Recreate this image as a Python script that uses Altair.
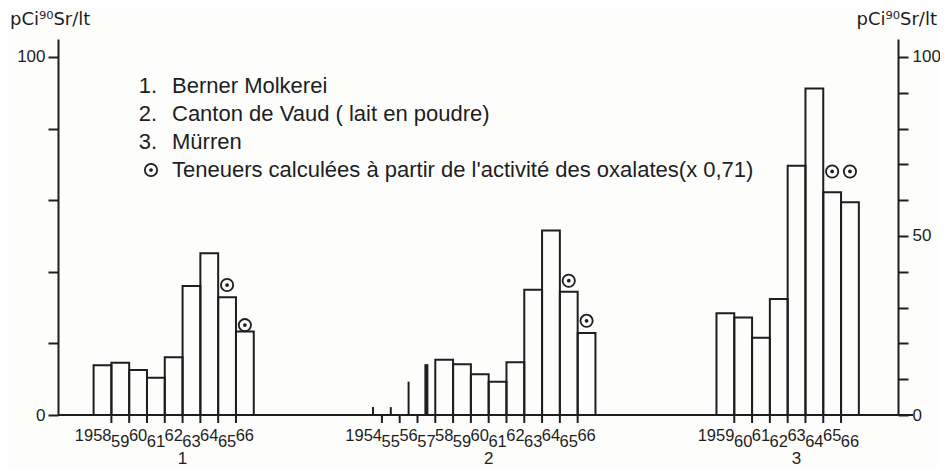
import altair as alt
import pandas as pd

# ---------------- data ----------------
GROUP_NAMES = ["1", "2", "3"]
YEARS_1 = [1958, 1959, 1960, 1961, 1962, 1963, 1964, 1965, 1966]
VALUES_1 = [13.9, 14.6, 12.6, 10.4, 16.1, 36.0, 45.2, 32.9, 23.3]
YEARS_2 = [1954, 1955, 1956, 1957, 1958, 1959, 1960, 1961, 1962, 1963, 1964, 1965, 1966]
VALUES_2 = [2.2, 2.2, 9.3, 14.2, 15.4, 14.2, 11.4, 9.3, 14.7, 35.0, 51.5, 34.4, 22.9]
YEARS_3 = [1959, 1960, 1961, 1962, 1963, 1964, 1965, 1966]
VALUES_3 = [28.4, 27.2, 21.6, 32.4, 69.6, 91.2, 62.2, 59.4]
SPIKE_YEARS_2 = [1954, 1955, 1956, 1957]          # isolated measurements drawn as lines
OXALATE_YEARS = [1965, 1966]
OXALATE_1 = [36.3, 25.1]
OXALATE_2 = [37.5, 26.3]
OXALATE_3 = [68.0, 68.0]
Y_TICKS = [0, 10, 20, 30, 40, 50, 60, 70, 80, 90, 100]
LEGEND_NUMBERS = ["1.", "2.", "3."]
LEGEND_TEXT = ["Berner Molkerei", "Canton de Vaud ( lait en poudre)", "Mürren",
               "Teneuers calculées à partir de l'activité des oxalates(x 0,71)"]
UNIT = "pCi⁹⁰Sr/lt"

# ---------------- layout ----------------
GROUP_START = [2.0, 17.2, 37.0]   # slot offset of each group on the x scale
X_MAX = 47.2
W, H = 840, 376
INK = "#1e1e1e"
FONT = "Liberation Sans"

years = [YEARS_1, YEARS_2, YEARS_3]
values = [VALUES_1, VALUES_2, VALUES_3]
oxal = [OXALATE_1, OXALATE_2, OXALATE_3]

rows, ticks, marks, glabels = [], [], [], []
for g, (ys, vs) in enumerate(zip(years, values)):
    s = GROUP_START[g]
    for i, (yr, v) in enumerate(zip(ys, vs)):
        spike = (g == 1 and yr in SPIKE_YEARS_2)
        rows.append(dict(group=GROUP_NAMES[g], year=yr, value=v, x0=s + i, x1=s + i + 1,
                         xc=s + i + 0.5, kind="spike" if spike else "bar",
                         thick=(yr == SPIKE_YEARS_2[-1]) if spike else False,
                         lab=str(yr) if i == 0 else str(yr)[2:],
                         first=(i == 0), level=i % 2))
        if i > 0:
            ticks.append(dict(bx=s + i))
    for yr, v in zip(OXALATE_YEARS, oxal[g]):
        i = ys.index(yr)
        marks.append(dict(xc=s + i + 0.5, value=v))
    # group number sits under the middle of the group's ticked span
    glabels.append(dict(xc=s + (len(ys) + 1) / 2, name=GROUP_NAMES[g]))

df = pd.DataFrame(rows)
tdf = pd.DataFrame(ticks)
mdf = pd.DataFrame(marks)
gdf = pd.DataFrame(glabels)

xs = alt.Scale(domain=[0, X_MAX], nice=False, zero=False)
ys_ = alt.Scale(domain=[0, 105], nice=False, zero=True)

axis_common = dict(values=Y_TICKS, labelExpr="datum.value % 50 == 0 ? datum.label : ''",
                   tickSize=10, tickWidth=2, domainWidth=2, tickColor=INK, domainColor=INK,
                   labelColor=INK, labelFont=FONT, labelFontSize=17, grid=False, title=None)

base = alt.Chart(df)

bars = base.transform_filter("datum.kind == 'bar'").mark_rect(
    fill="transparent", stroke=INK, strokeWidth=2).encode(
    x=alt.X("x0:Q", scale=xs, axis=None), x2="x1:Q",
    y=alt.Y("value:Q", scale=ys_, axis=alt.Axis(orient="left", labelPadding=3, **axis_common)),
    y2=alt.datum(0))

spikes = base.transform_filter("datum.kind == 'spike'").mark_rule(color=INK).encode(
    x=alt.X("xc:Q", scale=xs), y="value:Q", y2=alt.datum(0),
    strokeWidth=alt.condition("datum.thick", alt.value(4), alt.value(2)))

baseline = alt.Chart(pd.DataFrame({"a": [0]})).mark_rule(color=INK, strokeWidth=2).encode(
    y=alt.datum(0), x=alt.value(0), x2=alt.value(W + 15))

tickmarks = alt.Chart(tdf).mark_rule(color=INK, strokeWidth=2).encode(
    x=alt.X("bx:Q", scale=xs), y=alt.datum(0), y2=alt.value(H + 8))

lab_first = base.transform_filter("datum.first").mark_text(
    align="right", dx=9, dy=21, baseline="middle", font=FONT, fontSize=16.5, color=INK).encode(
    x=alt.X("xc:Q", scale=xs), y=alt.datum(0), text="lab:N")
lab_up = base.transform_filter("!datum.first && datum.level == 0").mark_text(
    align="center", dy=21, baseline="middle", font=FONT, fontSize=16.5, color=INK).encode(
    x=alt.X("xc:Q", scale=xs), y=alt.datum(0), text="lab:N")
lab_down = base.transform_filter("datum.level == 1").mark_text(
    align="center", dy=27, baseline="middle", font=FONT, fontSize=16.5, color=INK).encode(
    x=alt.X("xc:Q", scale=xs), y=alt.datum(0), text="lab:N")

group_lab = alt.Chart(gdf).mark_text(dy=44, baseline="middle", font=FONT, fontSize=17,
                                     color=INK).encode(
    x=alt.X("xc:Q", scale=xs), y=alt.datum(0), text="name:N")

ring = alt.Chart(mdf).mark_point(shape="circle", size=150, filled=False, stroke=INK,
                                 strokeWidth=1.8, opacity=1).encode(
    x=alt.X("xc:Q", scale=xs), y="value:Q")
dot = alt.Chart(mdf).mark_point(shape="circle", size=14, filled=True, fill=INK,
                                opacity=1).encode(
    x=alt.X("xc:Q", scale=xs), y="value:Q")

one = pd.DataFrame({"a": [0]})
legend_layers = []
LINE_Y = [47, 75, 103, 131]
for k, txt in enumerate(LEGEND_TEXT):
    legend_layers.append(alt.Chart(one).mark_text(
        align="left", baseline="middle", font=FONT, fontSize=22, color=INK, text=txt).encode(
        x=alt.value(114), y=alt.value(LINE_Y[k])))
for k, num in enumerate(LEGEND_NUMBERS):
    legend_layers.append(alt.Chart(one).mark_text(
        align="right", baseline="middle", font=FONT, fontSize=22, color=INK, text=num).encode(
        x=alt.value(99), y=alt.value(LINE_Y[k])))
legend_layers.append(alt.Chart(one).mark_point(shape="circle", size=150, filled=False,
                                               stroke=INK, strokeWidth=1.8, opacity=1).encode(
    x=alt.value(93), y=alt.value(LINE_Y[3])))
legend_layers.append(alt.Chart(one).mark_point(shape="circle", size=14, filled=True,
                                               fill=INK, opacity=1).encode(
    x=alt.value(93), y=alt.value(LINE_Y[3])))

TFONT = "DejaVu Sans"
titles = [
    alt.Chart(one).mark_text(align="left", baseline="alphabetic", font=TFONT, fontSize=18,
                             color=INK, text=UNIT).encode(x=alt.value(-48), y=alt.value(-14)),
    alt.Chart(one).mark_text(align="right", baseline="alphabetic", font=TFONT, fontSize=18,
                             color=INK, text=UNIT).encode(x=alt.value(879), y=alt.value(-14)),
]

main = alt.layer(bars, spikes, baseline, tickmarks, lab_first, lab_up, lab_down, group_lab,
                 ring, dot, *legend_layers, *titles)

right_axis = base.mark_point(opacity=0).encode(
    y=alt.Y("value:Q", scale=ys_, axis=alt.Axis(orient="right", labelPadding=4, **axis_common)))

chart = alt.layer(main, right_axis).resolve_scale(y="independent").properties(
    width=W, height=H,
    autosize=alt.AutoSizeParams(type="none"),
    padding={"left": 50, "top": 31, "right": 42, "bottom": 52},
    background="#fdfdfc",
).configure_view(stroke=None)

chart.save("out.html", embed_options={"renderer": "svg", "actions": False})
